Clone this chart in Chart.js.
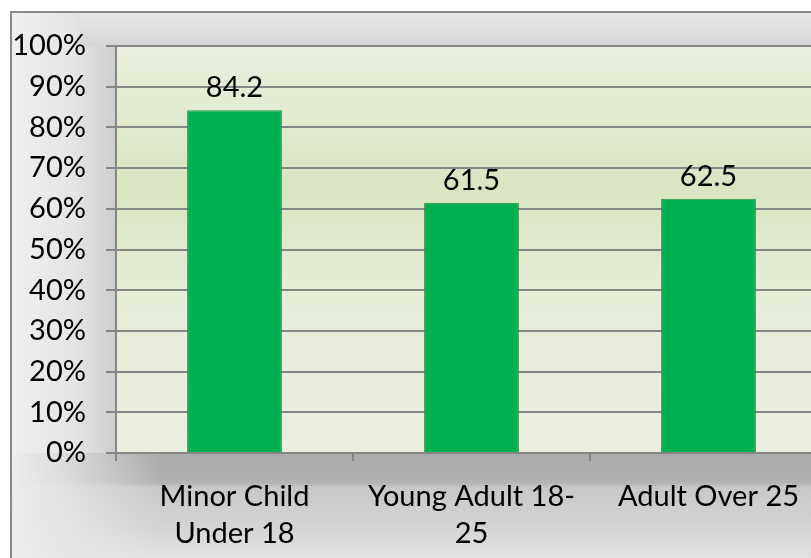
<!DOCTYPE html>
<html>
<head>
<meta charset="utf-8">
<script src="https://cdn.jsdelivr.net/npm/chart.js@4/dist/chart.umd.min.js"></script>
<style>
    html, body { margin: 0; padding: 0; overflow: hidden; background: #ffffff; }
    #wrap { width: 827px; height: 558px; }
</style>
</head>
<body>
<div id="wrap"><canvas id="grafico" width="827" height="558"></canvas></div>
<script>
// Dados do gráfico
const categorias = [['Minor Child', 'Under 18'], ['Young Adult 18-', '25'], 'Adult Over 25'];
const valores = [84.2, 61.5, 62.5];
const marcasEixoY = [0, 10, 20, 30, 40, 50, 60, 70, 80, 90, 100];

const fonte = 'Lato, "Open Sans", sans-serif';

// Fundo cinza do gráfico e gradiente verde da área de plotagem
const fundoPlugin = {
    id: 'fundo',
    beforeDraw(chart) {
        const ctx = chart.ctx;
        const area = chart.chartArea;
        const w = chart.width, h = chart.height;
        ctx.save();
        ctx.fillStyle = '#ffffff';
        ctx.fillRect(0, 0, w, h);

        // base clara
        ctx.fillStyle = '#ececec';
        ctx.fillRect(10, 11, w, h);

        // coluna esquerda (rótulos do eixo Y)
        let g = ctx.createLinearGradient(10, 0, area.left, 0);
        g.addColorStop(0, '#f0f0f0');
        g.addColorStop(0.6, '#e5e5e5');
        g.addColorStop(1, '#cecece');
        ctx.fillStyle = g;
        ctx.fillRect(10, 11, area.left - 10, h);

        // faixa superior
        g = ctx.createLinearGradient(0, 11, 0, area.top);
        g.addColorStop(0, '#e8e8e8');
        g.addColorStop(1, '#d6d6d6');
        ctx.fillStyle = g;
        ctx.fillRect(80, 11, w, area.top - 11);

        // faixa inferior
        g = ctx.createLinearGradient(0, area.bottom, 0, h);
        g.addColorStop(0, '#aaaaaa');
        g.addColorStop(0.28, '#b3b3b3');
        g.addColorStop(0.33, '#c8c8c8');
        g.addColorStop(0.7, '#d4d4d4');
        g.addColorStop(1, '#e2e2e2');
        ctx.fillStyle = g;
        ctx.fillRect(10, area.bottom, w, h - area.bottom);

        // suavizar o canto inferior esquerdo
        g = ctx.createLinearGradient(10, 0, 160, 0);
        g.addColorStop(0, 'rgba(238,238,238,1)');
        g.addColorStop(0.4, 'rgba(232,232,232,0.75)');
        g.addColorStop(1, 'rgba(232,232,232,0)');
        ctx.fillStyle = g;
        ctx.fillRect(10, area.bottom, 150, h - area.bottom);

        // área de plotagem
        g = ctx.createLinearGradient(0, area.top, 0, area.bottom);
        g.addColorStop(0, '#eaf0de');
        g.addColorStop(0.35, '#d9e5c1');
        g.addColorStop(0.6, '#e6edd7');
        g.addColorStop(1, '#ebefdf');
        ctx.fillStyle = g;
        ctx.fillRect(area.left, area.top, area.right - area.left, area.bottom - area.top);

        // borda externa
        ctx.strokeStyle = '#8a8a8a';
        ctx.lineWidth = 2;
        ctx.strokeRect(11, 12, w + 20, h + 20);
        ctx.restore();
    }
};

// Rótulos de valor acima das barras
const rotulosPlugin = {
    id: 'rotulos',
    afterDatasetsDraw(chart) {
        const ctx = chart.ctx;
        const meta = chart.getDatasetMeta(0);
        ctx.save();
        ctx.font = '29px ' + fonte;
        ctx.fillStyle = '#000000';
        ctx.textAlign = 'center';
        ctx.textBaseline = 'alphabetic';
        meta.data.forEach((barra, i) => {
            ctx.fillText(valores[i].toFixed(1), barra.x, barra.y - 13);
        });
        ctx.restore();
    }
};

const contexto = document.getElementById('grafico').getContext('2d');
new Chart(contexto, {
    type: 'bar',
    data: {
        labels: categorias,
        datasets: [{
            data: valores,
            backgroundColor: '#00b050',
            borderColor: '#3f8f3a',
            borderWidth: 1,
            categoryPercentage: 1,
            barPercentage: 0.4
        }]
    },
    options: {
        responsive: false,
        animation: false,
        layout: { padding: { top: 46, left: 0, right: 0, bottom: 0 } },
        plugins: {
            legend: { display: false },
            tooltip: { enabled: false }
        },
        scales: {
            x: {
                grid: {
                    display: true,
                    drawOnChartArea: false,
                    drawTicks: true,
                    tickLength: 8,
                    offset: true,
                    color: '#868686',
                    lineWidth: 2
                },
                border: { color: '#868686', width: 2 },
                ticks: {
                    color: '#000000',
                    font: { family: fonte, size: 29, lineHeight: 1.28 },
                    padding: 17,
                    maxRotation: 0,
                    autoSkip: false
                },
                afterFit(scale) { scale.height = 105; }
            },
            y: {
                min: 0,
                max: 100,
                afterBuildTicks(scale) {
                    scale.ticks = marcasEixoY.map(v => ({ value: v }));
                },
                grid: {
                    color: '#868686',
                    lineWidth: 2,
                    tickLength: 10
                },
                border: { color: '#868686', width: 2 },
                ticks: {
                    color: '#000000',
                    font: { family: fonte, size: 29 },
                    padding: 20,
                    callback: v => v + '%'
                },
                afterFit(scale) { scale.width = 116; }
            }
        }
    },
    plugins: [fundoPlugin, rotulosPlugin]
});
</script>
</body>
</html>
